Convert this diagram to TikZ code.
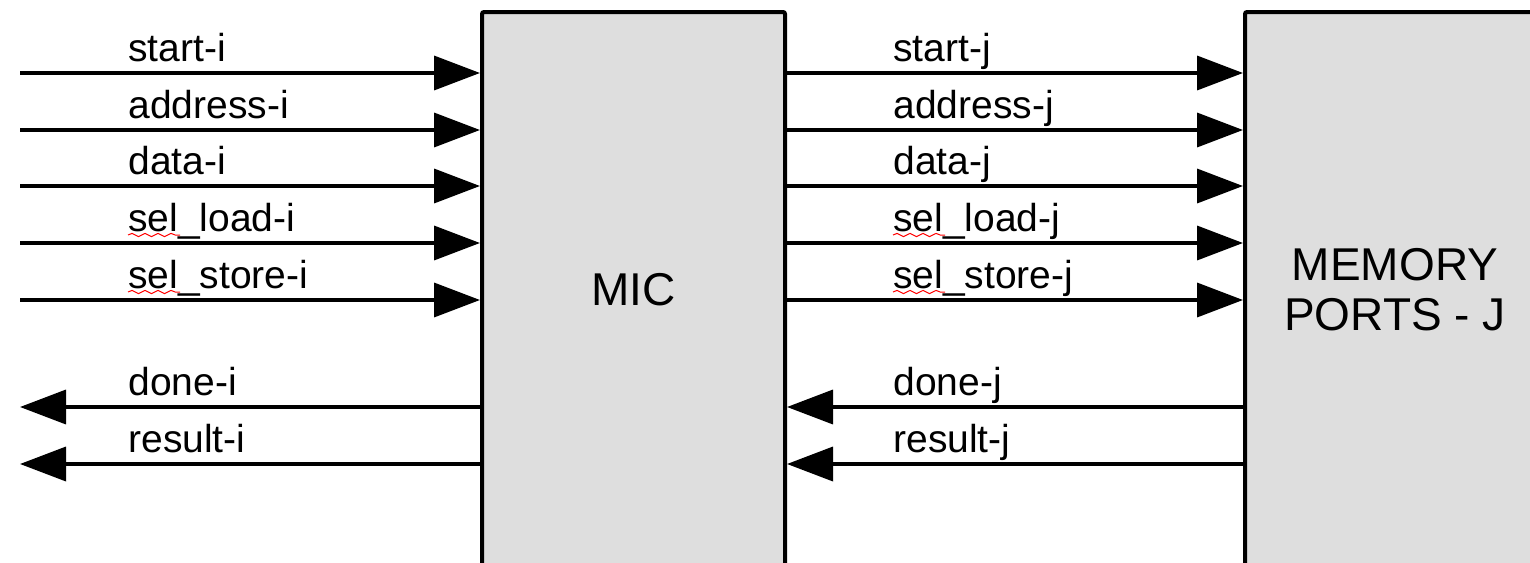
\documentclass[tikz,border=0pt]{standalone}
\usepackage{fontspec}
\setmainfont{Liberation Sans}
\usetikzlibrary{arrows.meta,decorations.pathmorphing}
\definecolor{boxgray}{HTML}{DEDEDE}
\begin{document}
\begin{tikzpicture}[x=0.5pt,y=-0.5pt,
  block/.style={draw=black,line width=2pt,fill=boxgray,rounded corners=1pt,
    minimum height=278pt,inner sep=0pt,align=center,
    font=\fontsize{23}{25}\selectfont},
  sig/.style={line width=1.8pt,-{Triangle[length=23pt,width=17pt]}},
  lbl/.style={anchor=base west,inner sep=0pt,font=\fontsize{19.5}{22}\selectfont},
  squig/.style={draw=red,line width=0.5pt,decorate,
    decoration={snake,amplitude=0.8pt,segment length=6.5pt}}]
\useasboundingbox (0,0) rectangle (1530,562);
\clip (0,0) rectangle (1530,562);

% the two blocks (they run past the lower and right edges)
\node[block,minimum width=151.5pt] (mic) at (633.5,290) {MIC};
\node[block,minimum width=150pt] (mem) at (1395,290) {MEMORY\\PORTS - J};

% request signals: outside -> MIC -> memory ports
\foreach \y/\li/\lj/\nm in {73/start-i/start-j/st,
                             130/address-i/address-j/ad,
                             186/data-i/data-j/da,
                             243/sel\_load-i/sel\_load-j/sl,
                             300/sel\_store-i/sel\_store-j/ss}{
  \coordinate (src-\nm) at (20,\y);
  \draw[sig] (src-\nm) -- (src-\nm -| mic.west);
  \draw[sig] (mic.east |- src-\nm) -- (mem.west |- src-\nm);
  \node[lbl] (li-\nm) at (128,\y-12) {\li};
  \node[lbl] (lj-\nm) at (893,\y-12) {\lj};
}

% replies: memory ports -> MIC -> outside
\foreach \y/\li/\lj/\nm in {407/done-i/done-j/dn,
                             464/result-i/result-j/rs}{
  \coordinate (dst-\nm) at (20,\y);
  \draw[sig] (mic.west |- dst-\nm) -- (dst-\nm);
  \draw[sig] (mem.west |- dst-\nm) -- (mic.east |- dst-\nm);
  \node[lbl] (li-\nm) at (128,\y-12) {\li};
  \node[lbl] (lj-\nm) at (893,\y-12) {\lj};
}

% spell-check marks under "sel"
\foreach \nm in {li-sl,li-ss,lj-sl,lj-ss}{
  \draw[squig] ([yshift=-2pt]\nm.base west) -- ++(52,0);
}
\end{tikzpicture}
\end{document}
